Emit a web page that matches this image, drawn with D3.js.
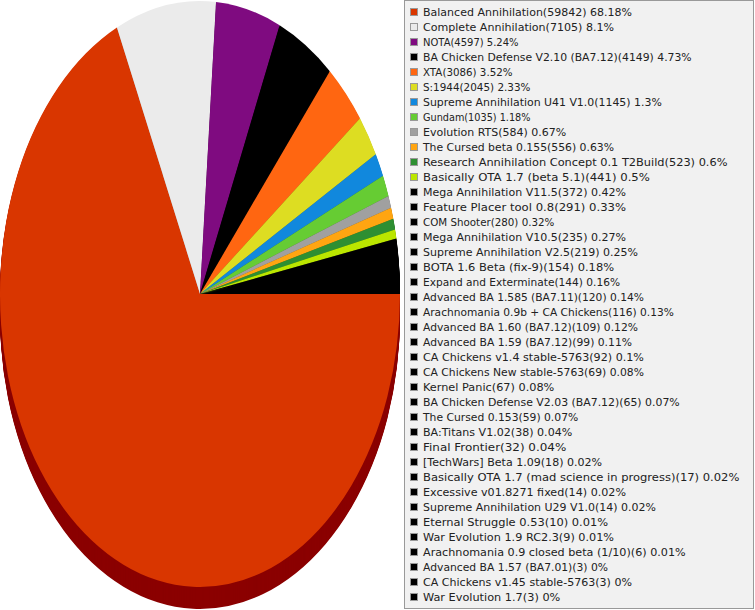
<!DOCTYPE html>
<html>
<head>
<meta charset="utf-8">
<script src="https://cdn.jsdelivr.net/npm/d3@7"></script>
<style>
  body { margin: 0; background: #fff; }
  svg { display: block; }
</style>
</head>
<body>
<div id="chart"></div>
<script>
var names = ["Balanced Annihilation", "Complete Annihilation", "NOTA", "BA Chicken Defense V2.10 (BA7.12)",
  "XTA", "S:1944", "Supreme Annihilation U41 V1.0", "Gundam", "Evolution RTS", "The Cursed beta 0.155",
  "Research Annihilation Concept 0.1 T2Build", "Basically OTA 1.7 (beta 5.1)", "Mega Annihilation V11.5",
  "Feature Placer tool 0.8", "COM Shooter", "Mega Annihilation V10.5", "Supreme Annihilation V2.5",
  "BOTA 1.6 Beta (fix-9)", "Expand and Exterminate", "Advanced BA 1.585 (BA7.11)",
  "Arachnomania 0.9b + CA Chickens", "Advanced BA 1.60 (BA7.12)", "Advanced BA 1.59 (BA7.12)",
  "CA Chickens v1.4 stable-5763", "CA Chickens New stable-5763", "Kernel Panic",
  "BA Chicken Defense V2.03 (BA7.12)", "The Cursed 0.153", "BA:Titans V1.02", "Final Frontier",
  "[TechWars] Beta 1.09", "Basically OTA 1.7 (mad science in progress)", "Excessive v01.8271 fixed",
  "Supreme Annihilation U29 V1.0", "Eternal Struggle 0.53", "War Evolution 1.9 RC2.3",
  "Arachnomania 0.9 closed beta (1/10)", "Advanced BA 1.57 (BA7.01)", "CA Chickens v1.45 stable-5763",
  "War Evolution 1.7"];

var counts = [59842, 7105, 4597, 4149, 3086, 2045, 1145, 1035, 584, 556, 523, 441, 372, 291, 280, 235,
  219, 154, 144, 120, 116, 109, 99, 92, 69, 67, 65, 59, 38, 32, 18, 17, 14, 14, 10, 9, 6, 3, 3, 3];

var percents = ["68.18", "8.1", "5.24", "4.73", "3.52", "2.33", "1.3", "1.18", "0.67", "0.63", "0.6", "0.5",
  "0.42", "0.33", "0.32", "0.27", "0.25", "0.18", "0.16", "0.14", "0.13", "0.12", "0.11", "0.1", "0.08",
  "0.08", "0.07", "0.07", "0.04", "0.04", "0.02", "0.02", "0.02", "0.02", "0.01", "0.01", "0.01", "0", "0", "0"];

var palette = ["#d93600", "#ebebeb", "#7f0b80", "#000000", "#ff6611", "#dddd22", "#1188dd", "#66cc33",
  "#a0a0a0", "#ffa511", "#2e8f32", "#bbe600"];

var data = names.map(function(n, i) {
  return {name: n, count: counts[i], pct: percents[i], color: palette[i] || "#000000"};
});

var width = 755, height = 610;
var rx = 200, ry = 293, cx = 200, cy = 294, depth = 22;
var charW = 5.97; // the legend font is a fixed-width one

var svg = d3.select("#chart")
  .append("svg")
    .attr("width", width)
    .attr("height", height);

var pie = d3.pie()
  .sort(null)
  .value(function(d) { return d.count; })
  .startAngle(Math.PI / 2)
  .endAngle(Math.PI / 2 + 2 * Math.PI);

var arc = d3.arc().innerRadius(0).outerRadius(rx);
var arcs = pie(data);

// side of the disc: stacked copies, darker
var sideColor = function(d, i) { return i === 0 ? "#8b0000" : d3.color(d.data.color).darker(1.5).toString(); };
for (var k = depth; k >= 1; k--) {
  svg.append("g")
      .attr("transform", "translate(" + cx + "," + (cy + k) + ") scale(1," + (ry / rx) + ")")
    .selectAll("path")
    .data(arcs)
    .enter()
    .append("path")
      .attr("d", arc)
      .attr("fill", sideColor);
}

svg.append("g")
    .attr("transform", "translate(" + cx + "," + cy + ") scale(1," + (ry / rx) + ")")
  .selectAll("path")
  .data(arcs)
  .enter()
  .append("path")
    .attr("d", arc)
    .attr("fill", function(d) { return d.data.color; });

// legend
var legend = svg.append("g");
legend.append("rect")
  .attr("x", 404.5).attr("y", 0.5)
  .attr("width", 349).attr("height", 608)
  .attr("fill", "#f1f1f1")
  .attr("stroke", "#999");

var rows = legend.selectAll("g.item")
  .data(data)
  .enter()
  .append("g")
    .attr("class", "item")
    .attr("transform", function(d, i) { return "translate(0," + (i * 15) + ")"; });

rows.append("rect")
  .attr("x", 410.5).attr("y", 8.5)
  .attr("width", 7).attr("height", 7)
  .attr("fill", function(d) { return d.color; })
  .attr("stroke", "#999");

function label(d) { return d.name + "(" + d.count + ") " + d.pct + "%"; }

rows.append("text")
  .attr("x", 423).attr("y", 16)
  .attr("font-family", "DejaVu Sans, sans-serif")
  .attr("font-size", 10)
  .attr("fill", "#222")
  .attr("textLength", function(d) { return label(d).length * charW; })
  .attr("lengthAdjust", "spacingAndGlyphs")
  .text(label);
</script>
</body>
</html>
